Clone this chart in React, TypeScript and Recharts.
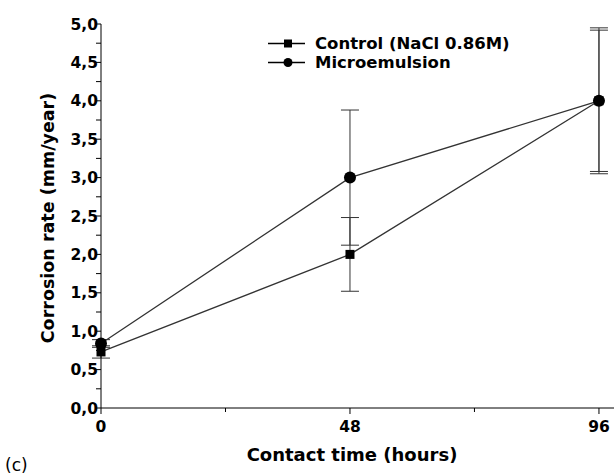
import React from 'react';
import { LineChart, Line, XAxis, YAxis, ErrorBar, Legend, Label } from 'recharts';

// values
const hours = [0, 48, 96];
const controlRate = [0.73, 2.0, 4.0];
const controlErr = [0.08, 0.48, 0.92];
const microRate = [0.84, 3.0, 4.0];
const microErr = [0.05, 0.88, 0.95];

const xTicks = [0, 24, 48, 72, 96];
const xMajor = [0, 48, 96];
const yTicks = [0, 0.25, 0.5, 0.75, 1, 1.25, 1.5, 1.75, 2, 2.25, 2.5, 2.75, 3, 3.25, 3.5, 3.75, 4, 4.25, 4.5, 4.75, 5];
const yRightTicks = [0, 0.5, 1, 1.5, 2, 2.5, 3, 3.5, 4, 4.5, 5];

const data = hours.map((h, i) => ({
  hours: h,
  control: controlRate[i],
  controlErr: controlErr[i],
  micro: microRate[i],
  microErr: microErr[i],
}));

const FONT = '"DejaVu Sans", Verdana, sans-serif';
const LINE = '#333';

const fmt = (v: number) => v.toFixed(1).replace('.', ',');

const BottomTick = (props: any) => {
  const { x, y, payload } = props;
  const major = xMajor.includes(payload.value);
  return (
    <g>
      <line x1={x} x2={x} y1={y} y2={y + (major ? 6 : 4)} stroke="#000" strokeWidth={1} />
      {major && (
        <text x={x} y={y + 24} textAnchor="middle" fontFamily={FONT} fontWeight={700} fontSize={15.5} fill="#000">
          {payload.value}
        </text>
      )}
    </g>
  );
};

const TopTick = (props: any) => {
  const { x, y, payload } = props;
  const major = xMajor.includes(payload.value);
  return <line x1={x} x2={x} y1={y} y2={y + (major ? 6 : 3)} stroke="#000" strokeWidth={1} />;
};

const LeftTick = (props: any) => {
  const { x, y, payload } = props;
  const major = Math.abs(payload.value * 2 - Math.round(payload.value * 2)) < 1e-6;
  return (
    <g>
      <line x1={x - 5} x2={x} y1={y} y2={y} stroke="#000" strokeWidth={1} />
      {major && (
        <text x={x - 3} y={y + 5.5} textAnchor="end" fontFamily={FONT} fontWeight={700} fontSize={15.5} fill="#000">
          {fmt(payload.value)}
        </text>
      )}
    </g>
  );
};

const RightTick = (props: any) => {
  const { x, y } = props;
  return <line x1={x - 4} x2={x} y1={y} y2={y} stroke="#000" strokeWidth={1} />;
};

const SquareDot = (props: any) => {
  const { cx, cy } = props;
  return <rect x={cx - 4.5} y={cy - 4.5} width={9} height={9} fill="#000" />;
};

const CircleDot = (props: any) => {
  const { cx, cy } = props;
  return <circle cx={cx} cy={cy} r={6} fill="#000" />;
};

const legendItems = [
  { name: 'Control (NaCl 0.86M)', shape: 'square' },
  { name: 'Microemulsion', shape: 'circle' },
];

const LegendContent = () => (
  <div style={{ fontFamily: FONT, fontWeight: 700, fontSize: 16.5, color: '#000', lineHeight: '19px' }}>
    {legendItems.map((it) => (
      <div key={it.name} style={{ display: 'flex', alignItems: 'center', whiteSpace: 'nowrap' }}>
        <svg width={47} height={19} style={{ marginRight: 6 }}>
          <line x1={6} x2={43} y1={9.5} y2={9.5} stroke="#000" strokeWidth={1.3} />
          {it.shape === 'square' ? (
            <rect x={22} y={5.5} width={8} height={8} fill="#000" />
          ) : (
            <circle cx={26} cy={9.5} r={4.5} fill="#000" />
          )}
        </svg>
        <span>{it.name}</span>
      </div>
    ))}
  </div>
);

export default function App() {
  return (
    <div style={{ position: 'absolute', left: 0, top: 0, width: 614, height: 476, background: '#fff' }}>
      <LineChart width={614} height={476} data={data} margin={{ top: 24, right: 0, bottom: 0, left: 0 }}>
        <XAxis
          dataKey="hours"
          type="number"
          domain={[0, 98.9]}
          ticks={xTicks}
          interval={0}
          height={68}
          tickSize={0}
          tickMargin={0}
          tick={<BottomTick />}
          axisLine={{ stroke: '#000', strokeWidth: 1 }}
          tickLine={false}
        >
          <Label
            content={() => (
              <g>
                <text x={352} y={461} textAnchor="middle" fontFamily={FONT} fontWeight={700} fontSize={18} fill="#000">
                  Contact time (hours)
                </text>
                <text x={5} y={471} fontFamily={FONT} fontSize={17} fill="#000">
                  (c)
                </text>
              </g>
            )}
          />
        </XAxis>
        <XAxis
          xAxisId="top"
          orientation="top"
          dataKey="hours"
          type="number"
          domain={[0, 98.9]}
          ticks={xTicks}
          interval={0}
          height={0}
          tickSize={0}
          tickMargin={0}
          tick={<TopTick />}
          axisLine={{ stroke: '#000', strokeWidth: 1 }}
          tickLine={false}
        />
        <YAxis
          type="number"
          domain={[0, 5]}
          ticks={yTicks}
          interval={0}
          width={101}
          tickSize={0}
          tickMargin={0}
          tick={<LeftTick />}
          axisLine={{ stroke: '#000', strokeWidth: 1 }}
          tickLine={false}
        >
          <Label
            content={() => (
              <text
                x={0}
                y={0}
                transform="translate(54 218) rotate(-90)"
                textAnchor="middle"
                fontFamily={FONT}
                fontWeight={700}
                fontSize={17.5}
                fill="#000"
              >
                Corrosion rate (mm/year)
              </text>
            )}
          />
        </YAxis>
        <YAxis
          yAxisId="right"
          orientation="right"
          type="number"
          domain={[0, 5]}
          ticks={yRightTicks}
          interval={0}
          width={0}
          tickSize={0}
          tickMargin={0}
          tick={<RightTick />}
          axisLine={false}
          tickLine={false}
        />
        <Legend
          layout="vertical"
          align="center"
          verticalAlign="middle"
          content={<LegendContent />}
          wrapperStyle={{ left: 262, top: 34, width: 'auto', height: 'auto' }}
        />
        <Line
          type="linear"
          dataKey="control"
          name="Control (NaCl 0.86M)"
          stroke={LINE}
          strokeWidth={1.3}
          dot={<SquareDot />}
          activeDot={false}
          isAnimationActive={false}
          zIndex={400}
        >
          <ErrorBar dataKey="controlErr" width={9} stroke={LINE} strokeWidth={1} direction="y" />
        </Line>
        <Line
          type="linear"
          dataKey="micro"
          name="Microemulsion"
          stroke={LINE}
          strokeWidth={1.3}
          dot={<CircleDot />}
          activeDot={false}
          isAnimationActive={false}
          zIndex={450}
        >
          <ErrorBar dataKey="microErr" width={9} stroke={LINE} strokeWidth={1} direction="y" />
        </Line>
      </LineChart>
    </div>
  );
}
